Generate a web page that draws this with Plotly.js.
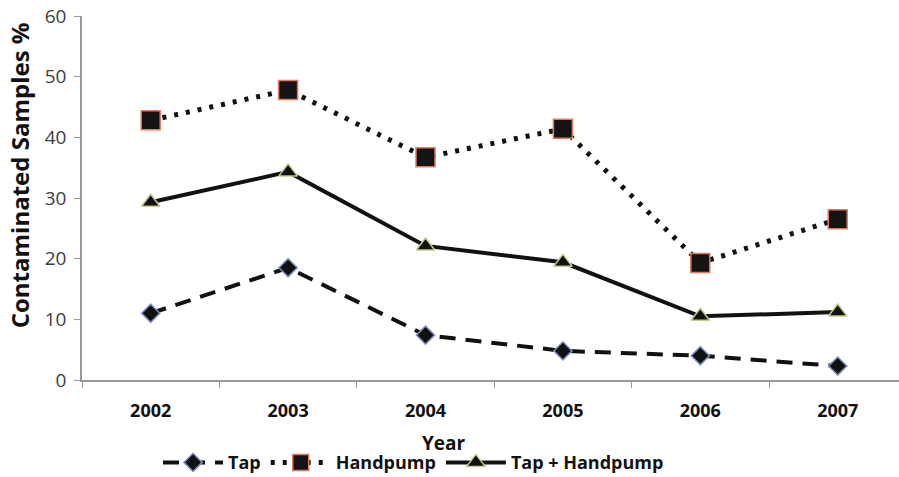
<!DOCTYPE html>
<html><head><meta charset="utf-8">
<script src="https://cdn.plot.ly/plotly-3.0.1.min.js"></script>
<style>html,body{margin:0;padding:0;background:#fff}</style>
</head><body>
<div id="chart" style="width:899px;height:477px"></div>
<script>
const years = ["2002","2003","2004","2005","2006","2007"];
const tap = [11.0, 18.5, 7.4, 4.8, 4.0, 2.3];
const handpump = [42.8, 47.8, 36.7, 41.4, 19.3, 26.5];
const tapHandpump = [29.3, 34.3, 22.1, 19.4, 10.5, 11.2];
const yTicks = [0, 10, 20, 30, 40, 50, 60];

const FONT = "Open Sans, Lato, sans-serif";
const traces = [
  {x: years, y: tap, name: "Tap", type: "scatter", mode: "lines+markers",
   line: {color: "#111", width: 4, dash: "16px,10px"},
   marker: {symbol: "diamond", size: 14, color: "#111", line: {color: "#8090c0", width: 1.5}}},
  {x: years, y: handpump, name: "Handpump", type: "scatter", mode: "lines+markers",
   line: {color: "#111", width: 5, dash: "4px,8px"},
   marker: {symbol: "square", size: 19, color: "#141414", line: {color: "#e07a60", width: 1.5}}},
  {x: years, y: tapHandpump, name: "Tap + Handpump", type: "scatter", mode: "lines+markers",
   line: {color: "#111", width: 4},
   marker: {symbol: "triangle-up", size: 16, color: "#111", line: {color: "#c8c890", width: 1.5}}}
];

const layout = {
  width: 899, height: 477,
  margin: {l: 82, r: 0, t: 16, b: 97, autoexpand: false},
  paper_bgcolor: "#fff", plot_bgcolor: "#fff",
  font: {family: FONT, color: "#222"},
  showlegend: true,
  legend: {orientation: "h", xref: "container", yref: "container", x: 0.46, xanchor: "center",
           y: 0.03, yanchor: "middle", itemwidth: 60,
           font: {family: FONT, size: 18, color: "#111", weight: "bold"}, tracegroupgap: 0},
  xaxis: {type: "category", range: [-0.5, 5.446], tickson: "boundaries", automargin: false,
          ticks: "outside", ticklen: 6, tickcolor: "#999", showline: true, linecolor: "#999", linewidth: 1.5,
          showgrid: false, zeroline: false, ticklabelstandoff: 14,
          tickfont: {family: FONT, size: 18, color: "#111", weight: "bold"}},
  yaxis: {range: [0, 60], tickvals: yTicks, ticks: "outside", ticklen: 6, tickcolor: "#999", automargin: false,
          showline: true, linecolor: "#999", linewidth: 1.5, showgrid: false, zeroline: false,
          ticklabelstandoff: 4,
          tickfont: {family: FONT, size: 19, color: "#404040"}},
  annotations: [
    {text: "Contaminated Samples %", textangle: -90, showarrow: false,
     xref: "paper", yref: "paper", x: -0.076, y: 0.562, xanchor: "center", yanchor: "middle",
     font: {family: FONT, size: 24, color: "#111", weight: "bold"}},
    {text: "Year", showarrow: false, xref: "paper", yref: "paper", x: 0.443, y: -0.173,
     xanchor: "center", yanchor: "middle",
     font: {family: FONT, size: 19, color: "#111", weight: "bold"}}
  ]
};
Plotly.newPlot("chart", traces, layout, {displayModeBar: false, responsive: false});
</script>
</body></html>
